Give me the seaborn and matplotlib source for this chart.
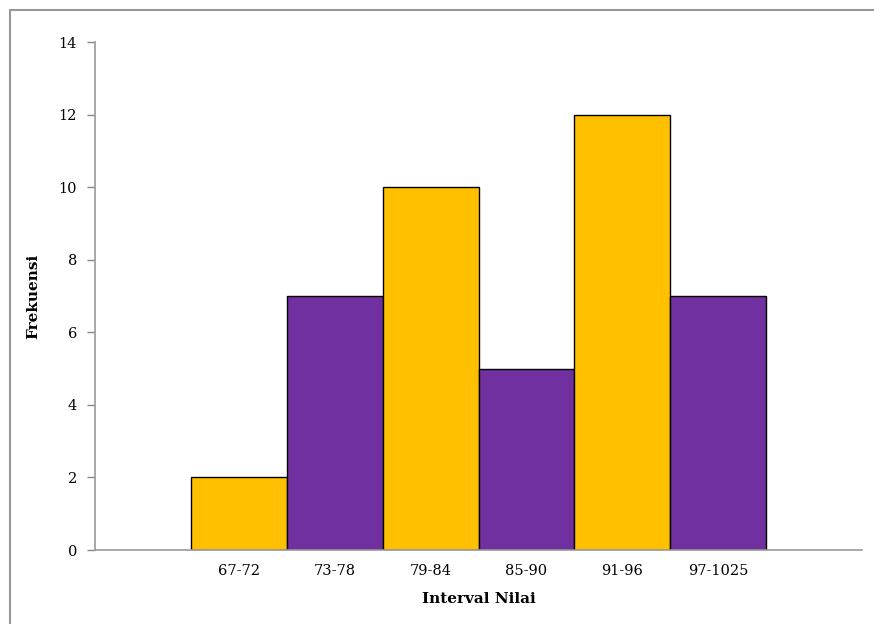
import matplotlib
matplotlib.use("Agg")
import matplotlib.pyplot as plt
import seaborn as sns
import pandas as pd
from matplotlib.patches import Rectangle

categories = ["67-72", "73-78", "79-84", "85-90", "91-96", "97-1025"]
frekuensi = [2, 7, 10, 5, 12, 7]
bar_colors = ["#FFC000", "#7030A0", "#FFC000", "#7030A0", "#FFC000", "#7030A0"]
y_ticks = [0, 2, 4, 6, 8, 10, 12, 14]

sns.set_theme(style="white")
plt.rcParams["font.family"] = ["DejaVu Serif"]
plt.rcParams["text.color"] = "black"
plt.rcParams["axes.labelcolor"] = "black"
plt.rcParams["xtick.color"] = "black"
plt.rcParams["ytick.color"] = "black"

df = pd.DataFrame({"Interval": categories, "Frekuensi": frekuensi})

W, H = 874, 624
fig = plt.figure(figsize=(W / 100, H / 100), dpi=100)
ax = fig.add_axes([95 / W, 1 - 550 / H, (862 - 95) / W, (550 - 42) / H])

sns.barplot(data=df, x="Interval", y="Frekuensi", hue="Interval",
            palette=bar_colors, order=categories, hue_order=categories,
            width=1.0, edgecolor="black", linewidth=1.0, legend=False,
            saturation=1, ax=ax)

ax.set_xlim(-1.5, 6.5)
ax.set_ylim(0, 14)
ax.set_yticks(y_ticks)
ax.set_yticklabels([str(v) for v in y_ticks], fontsize=10.5)
ax.tick_params(axis="x", length=0, labelsize=10.5, pad=10, labelcolor="black")
ax.tick_params(axis="y", length=6, width=1, color="#888888", left=True,
               direction="out", pad=7, labelcolor="black")
for s in ["top", "right"]:
    ax.spines[s].set_visible(False)
for s in ["left", "bottom"]:
    ax.spines[s].set_color("#999999")
    ax.spines[s].set_linewidth(1.2)

ax.set_xlabel("Interval Nilai", fontsize=11, fontweight="bold", labelpad=10,
              color="black")
ax.set_ylabel("Frekuensi", fontsize=11, fontweight="bold", labelpad=13,
              color="black")

fig.patches.append(Rectangle((10 / W, -0.1), 1.2, 1 - 10 / H + 0.1,
                             transform=fig.transFigure, fill=False,
                             edgecolor="#999999", linewidth=1.5))

fig.savefig("out.png", dpi=100)
